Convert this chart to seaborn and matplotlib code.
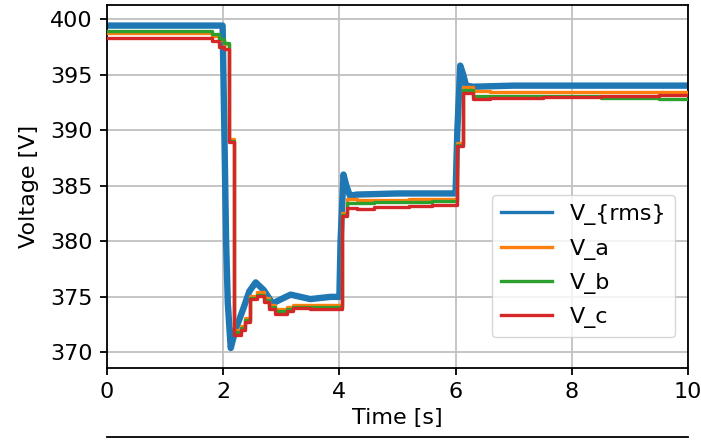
import matplotlib
matplotlib.use("Agg")
import matplotlib.pyplot as plt
from matplotlib.lines import Line2D
import seaborn as sns
import pandas as pd

# ---- data ----
t_rms = [0.0, 1.99, 2.02, 2.05, 2.08, 2.13, 2.21, 2.35, 2.45, 2.56, 2.7, 2.85,
         3.0, 3.16, 3.5, 3.85, 4.0, 4.02, 4.07, 4.12, 4.18, 4.3, 5.0, 5.98,
         6.0, 6.03, 6.08, 6.13, 6.18, 6.3, 7.0, 8.0, 9.0, 10.0]
v_rms = [399.4, 399.4, 390.0, 380.0, 374.4, 370.4, 372.0, 374.0, 375.5, 376.3,
         375.6, 374.4, 374.8, 375.2, 374.8, 375.0, 375.0, 380.0, 386.0, 385.0,
         384.1, 384.2, 384.3, 384.3, 384.4, 390.0, 395.8, 395.0, 394.0, 393.9,
         394.0, 394.0, 394.0, 394.0]

t_ph = [0.0, 1.8, 1.92, 2.02, 2.1, 2.18, 2.3, 2.38, 2.46, 2.58, 2.7, 2.78,
        2.9, 3.1, 3.2, 3.5, 4.05, 4.13, 4.3, 4.6, 5.2, 5.6, 6.02, 6.12, 6.3,
        6.6, 7.5, 8.5, 9.5, 10.0]
v_a = [398.7, 398.5, 398.1, 397.7, 389.2, 372.0, 372.4, 373.1, 375.1, 375.4,
       374.9, 374.3, 373.9, 374.1, 374.3, 374.3, 382.5, 383.8, 383.7, 383.7,
       383.8, 383.8, 388.8, 393.9, 393.5, 393.4, 393.4, 393.4, 393.4, 393.4]
v_b = [398.95, 398.6, 398.2, 397.8, 389.0, 371.8, 372.2, 372.9, 374.9, 375.2,
       374.7, 374.1, 373.7, 373.9, 374.1, 374.1, 382.4, 383.4, 383.4, 383.5,
       383.5, 383.6, 388.7, 393.6, 393.1, 393.1, 393.1, 392.9, 392.8, 392.8]
v_c = [398.3, 398.0, 397.5, 397.3, 388.9, 371.6, 372.0, 372.7, 374.8, 375.1,
       374.5, 373.9, 373.5, 373.7, 374.0, 373.9, 382.3, 383.0, 382.9, 383.1,
       383.2, 383.3, 388.6, 393.3, 392.8, 392.9, 393.0, 393.1, 393.2, 393.2]

labels = ["V_{rms}", "V_a", "V_b", "V_c"]
colors = ["#1f77b4", "#ff7f0e", "#2ca02c", "#d62728"]
x_ticks = [0, 2, 4, 6, 8, 10]
y_ticks = [370, 375, 380, 385, 390, 395, 400]

df_rms = pd.DataFrame({"t": t_rms, "v": v_rms})
df_ph = pd.DataFrame({"t": t_ph, "a": v_a, "b": v_b, "c": v_c})

FS = 16

# ---- figure ----
fig = plt.figure(figsize=(7.01, 4.40), dpi=100)
ax = fig.add_axes([0.1526, 0.1636, 0.8289, 0.8250])

sns.lineplot(data=df_rms, x="t", y="v", color=colors[0], lw=4.6, ax=ax,
             legend=False, estimator=None, sort=False, zorder=2)
for col, c in zip(["a", "b", "c"], colors[1:]):
    sns.lineplot(data=df_ph, x="t", y=col, color=c, lw=2.4, ax=ax,
                 legend=False, estimator=None, drawstyle="steps-post", zorder=3)

ax.set_xlim(0, 10)
ax.set_ylim(368.6, 401.25)
ax.set_xticks(x_ticks)
ax.set_yticks(y_ticks)
ax.grid(True, color="#c0c0c0", lw=1.3)
ax.set_axisbelow(True)
for s in ax.spines.values():
    s.set_linewidth(1.3)
    s.set_color("black")
ax.tick_params(labelsize=FS, width=1.3, length=5.3, pad=5)
ax.set_xlabel("Time [s]", fontsize=FS, labelpad=4)
ax.set_ylabel("Voltage [V]", fontsize=FS, labelpad=8)

handles = [Line2D([0], [0], color=c, lw=2.4) for c in colors]
ax.legend(handles, labels, loc="lower right", bbox_to_anchor=(0.978, 0.085),
          borderaxespad=0, fontsize=FS, handlelength=2.3, labelspacing=0.6)

fig.add_artist(Line2D([0.1526, 0.9815], [0.006, 0.006], color="black", lw=1.3,
                      transform=fig.transFigure))

fig.savefig("out.png", dpi=100)
